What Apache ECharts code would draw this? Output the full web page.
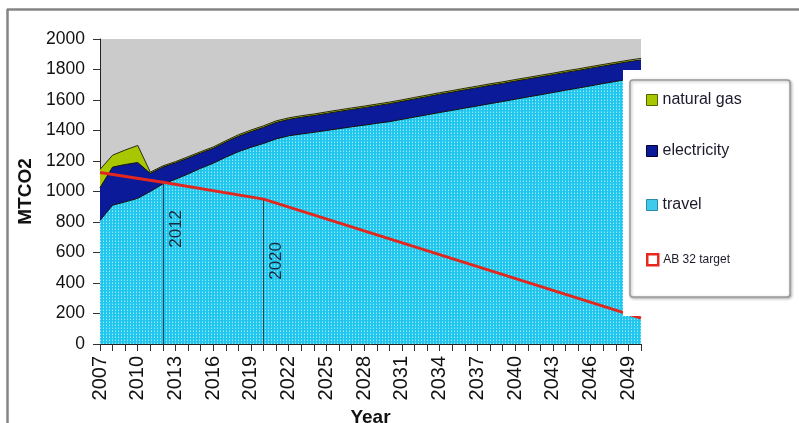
<!DOCTYPE html>
<html>
<head>
<meta charset="utf-8">
<script src="https://cdn.jsdelivr.net/npm/echarts@6/dist/echarts.min.js"></script>
<style>html,body{margin:0;padding:0;background:#fff;overflow:hidden}#c{width:799px;height:423px}</style>
</head>
<body>
<div id="c"></div>
<script>
const years = ['2007','2008','2009','2010','2011','2012','2013','2014','2015','2016','2017','2018','2019','2020','2021','2022','2023','2024','2025','2026','2027','2028','2029','2030','2031','2032','2033','2034','2035','2036','2037','2038','2039','2040','2041','2042','2043','2044','2045','2046','2047','2048','2049','2050'];
const travel = [810,910,932,955,1000,1050,1080,1115,1152,1185,1225,1261,1290,1315,1345,1365,1377,1388,1400,1412,1424,1435,1447,1458,1473,1488,1503,1518,1532,1547,1561,1576,1590,1605,1620,1634,1649,1664,1678,1693,1708,1722,1737,1750];
const electricity = [215,250,245,235,119,110,108,104,100,98,99,101,103,106,108,108,110,110,112,113,114,115,116,118,118,119,119,120,120,120,120,120,119,119,118,118,117,117,116,116,115,115,114,113];
const naturalGas = [120,78,95,112,8,8,8,9,9,9,9,10,10,10,10,10,10,10,10,10,10,10,10,10,10,10,10,10,10,10,10,10,10,10,10,10,10,10,10,10,10,10,10,10];
const ab32Target = [1125,null,null,null,null,1060,null,null,null,null,null,null,null,950,null,null,null,null,null,null,null,null,null,null,null,null,null,null,null,null,null,null,null,null,null,null,null,null,null,null,null,null,null,170];
const yTicks = {min:0, max:2000, interval:200};
const markYears = ['2012','2020'];

function dotPattern(){
  const c=document.createElement('canvas'); c.width=3; c.height=3;
  const g=c.getContext('2d');
  g.fillStyle='#20c6ee'; g.fillRect(0,0,3,3);
  g.fillStyle='#9fe8fa'; g.fillRect(1,1,1,1);
  g.fillStyle='#55d6f4'; g.fillRect(1,0,1,1);
  return c;
}

const chart = echarts.init(document.getElementById('c'), null, {renderer:'canvas', width:799, height:423});
const font = 'Liberation Sans, Arial, sans-serif';
const targetAt = y => ab32Target[years.indexOf(y)];

const legendBase = {orient:'vertical', left:641, itemWidth:11, itemHeight:11, itemGap:0, z:30, icon:'rect',
  textStyle:{fontFamily:font, color:'#1a1a2a', fontSize:16}, selectedMode:false};

chart.setOption({
  animation:false,
  textStyle:{fontFamily:font},
  grid:{left:100, right:158, top:39, bottom:79, show:true, backgroundColor:'#cbcbcb', borderWidth:0, containLabel:false, outerBoundsMode:'none'},
  xAxis:{type:'category', data:years, boundaryGap:false,
    axisLine:{lineStyle:{color:'#222', width:1}},
    axisTick:{interval:0, length:7, lineStyle:{color:'#333'}},
    axisLabel:{interval:2, rotate:90, fontSize:20, color:'#111', margin:12},
    name:'Year', nameLocation:'middle', nameGap:52,
    nameTextStyle:{fontSize:19, fontWeight:'bold', color:'#111'}},
  yAxis:{type:'value', min:yTicks.min, max:yTicks.max, interval:yTicks.interval,
    splitLine:{show:false},
    axisLine:{show:true, lineStyle:{color:'#222'}},
    axisTick:{show:true, length:7, lineStyle:{color:'#333'}},
    axisLabel:{fontSize:17.5, color:'#111', margin:15, formatter:v=>String(v)},
    name:'MTCO2', nameLocation:'middle', nameGap:52,
    nameTextStyle:{fontSize:19, fontWeight:'bold', color:'#111'}},
  legend:[
    Object.assign({}, legendBase, {top:87, data:[{name:'natural gas', itemStyle:{color:'#a9c700', borderColor:'#556000', borderWidth:1}}]}),
    Object.assign({}, legendBase, {top:138, data:[{name:'electricity', itemStyle:{color:'#0a1a99', borderColor:'#000033', borderWidth:1}}]}),
    Object.assign({}, legendBase, {top:192, data:[{name:'travel', itemStyle:{color:'#3ccbea', borderColor:'#2a8aa8', borderWidth:1}}]}),
    Object.assign({}, legendBase, {top:248, textStyle:{fontFamily:font, color:'#1a1a2a', fontSize:12}, data:[{name:'AB 32 target', itemStyle:{color:'#fff', borderColor:'#e8281e', borderWidth:2.5}}]})
  ],
  graphic:[
    {type:'rect', shape:{x:623, y:70, width:176, height:246}, style:{fill:'#fff'}, z:10},
    {type:'rect', shape:{x:630, y:80, width:160, height:217, r:3}, style:{fill:'#fff', stroke:'#9a9a9a', lineWidth:1.5, shadowBlur:3, shadowColor:'rgba(0,0,0,0.3)', shadowOffsetX:1, shadowOffsetY:1}, z:11},
    {type:'line', shape:{x1:7, y1:9.5, x2:799, y2:9.5}, style:{stroke:'#858585', lineWidth:2.5}, z:12},
    {type:'line', shape:{x1:7.5, y1:9, x2:7.5, y2:423}, style:{stroke:'#858585', lineWidth:2.5}, z:12}
  ],
  series:[
    {name:'travel', type:'line', stack:'total', data:travel, symbol:'none',
      lineStyle:{color:'#111', width:1}, areaStyle:{color:{image:dotPattern(), repeat:'repeat'}, opacity:1}, itemStyle:{color:'#3ccbea'}, z:2},
    {name:'electricity', type:'line', stack:'total', data:electricity, symbol:'none',
      lineStyle:{color:'#111', width:1}, areaStyle:{color:'#0a1a99', opacity:1}, itemStyle:{color:'#0a1a99'}, z:2},
    {name:'natural gas', type:'line', stack:'total', data:naturalGas, symbol:'none',
      lineStyle:{color:'#2a2a10', width:1}, areaStyle:{color:'#a9c700', opacity:1}, itemStyle:{color:'#a9c700'}, z:2},
    {name:'AB 32 target', type:'line', data:ab32Target, connectNulls:true, symbol:'none',
      lineStyle:{color:'#e0281e', width:3}, itemStyle:{color:'#e0281e'}, z:5,
      markLine:{silent:true, symbol:'none', label:{show:false},
        lineStyle:{color:'#2c3e50', width:1, type:'solid'},
        data: markYears.map(y => [{coord:[y,0]},{coord:[y,targetAt(y)]}])},
      markPoint:{silent:true, symbol:'circle', symbolSize:0,
        label:{show:true, rotate:90, fontSize:17, color:'#1c2c3c', offset:[0,13], formatter:p=>p.name},
        data:[{name:'2012', coord:['2012',755]},{name:'2020', coord:['2020',545]}]}}
  ]
});
</script>
</body>
</html>
